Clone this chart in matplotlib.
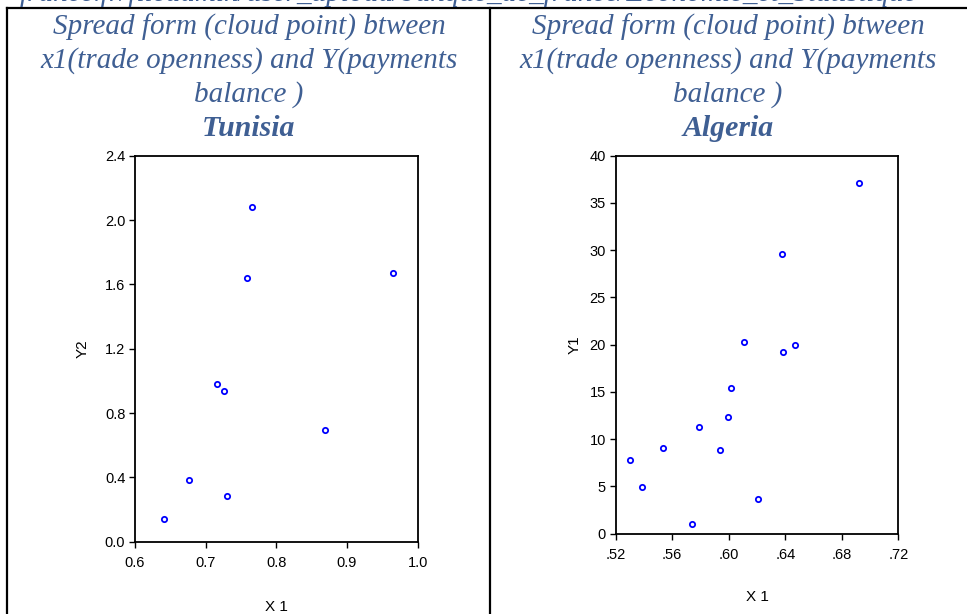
import matplotlib
matplotlib.use("Agg")
import matplotlib.pyplot as plt
from matplotlib.lines import Line2D

# Tunisia: X1 (trade openness) vs Y2 (payments balance)
tun_x1 = [0.7655, 0.7585, 0.9655, 0.716, 0.7255, 0.869, 0.677, 0.730, 0.6415]
tun_y2 = [2.083, 1.641, 1.669, 0.981, 0.939, 0.693, 0.385, 0.286, 0.143]

# Algeria: X1 (trade openness) vs Y1 (payments balance)
alg_x1 = [0.6923, 0.6377, 0.6111, 0.6386, 0.6466, 0.6016, 0.5997, 0.5787,
          0.5537, 0.5936, 0.5299, 0.5388, 0.6205, 0.5738]
alg_y1 = [37.08, 29.6, 20.28, 19.26, 20.0, 15.39, 12.38, 11.32,
          9.07, 8.86, 7.80, 4.91, 3.67, 0.99]

tun_xticks = [0.6, 0.7, 0.8, 0.9, 1.0]
tun_xlabels = ["0.6", "0.7", "0.8", "0.9", "1.0"]
tun_yticks = [0.0, 0.4, 0.8, 1.2, 1.6, 2.0, 2.4]
tun_ylabels = ["0.0", "0.4", "0.8", "1.2", "1.6", "2.0", "2.4"]

alg_xticks = [0.52, 0.56, 0.60, 0.64, 0.68, 0.72]
alg_xlabels = [".52", ".56", ".60", ".64", ".68", ".72"]
alg_yticks = [0, 5, 10, 15, 20, 25, 30, 35, 40]
alg_ylabels = ["0", "5", "10", "15", "20", "25", "30", "35", "40"]

title_lines = ["Spread form (cloud point) btween",
               "x1(trade openness) and Y(payments",
               "balance )"]
url_text = "france.fr/fileadmin/user_upload/banque_de_france/Economie_et_Statistique"

W, H = 967, 614
title_color = "#3F5F93"
serif = ["Liberation Serif", "DejaVu Serif"]
sans = ["Liberation Sans", "DejaVu Sans"]

fig = plt.figure(figsize=(W / 100, H / 100), dpi=100)

# table borders
lw = 1.6
fig.add_artist(Line2D([7 / W, 1], [1 - 8 / H, 1 - 8 / H], color="black", lw=lw))
fig.add_artist(Line2D([7 / W, 7 / W], [0, 1 - 8 / H], color="black", lw=lw))
fig.add_artist(Line2D([490 / W, 490 / W], [0, 1 - 8 / H], color="black", lw=lw))

# line of text above the table, cut by the page edge in the original
fig.text(20 / W, 1 - 1 / H, url_text, family=serif, style="italic",
         fontsize=21, color=title_color, va="baseline", ha="left")

for cx, country in [(249, "Tunisia"), (728, "Algeria")]:
    for i, line in enumerate(title_lines):
        fig.text(cx / W, 1 - (27 + 33.7 * i) / H, line, family=serif,
                 style="italic", fontsize=21, color=title_color,
                 ha="center", va="center")
    fig.text(cx / W, 1 - 128 / H, country, family=serif, style="italic",
             weight="bold", fontsize=21.5, color=title_color,
             ha="center", va="center")


def scatter_panel(rect, x, y, xlim, ylim, xticks, xlabels, yticks, ylabels,
                  ylabel, ylab_x, xlab_y):
    ax = fig.add_axes(rect)
    ax.plot(x, y, linestyle="none", marker="o", markersize=3.8,
            markerfacecolor="white", markeredgecolor="blue", markeredgewidth=1.3)
    ax.set_xlim(*xlim)
    ax.set_ylim(*ylim)
    ax.set_xticks(xticks)
    ax.set_xticklabels(xlabels)
    ax.set_yticks(yticks)
    ax.set_yticklabels(ylabels)
    for s in ax.spines.values():
        s.set_linewidth(1.3)
    ax.tick_params(axis="both", direction="out", length=4, width=1,
                   labelsize=10.5)
    ax.tick_params(axis="x", pad=6)
    ax.tick_params(axis="y", pad=3)
    for lab in ax.get_xticklabels() + ax.get_yticklabels():
        lab.set_family(sans)
    ax.set_xlabel("X 1", family=sans, fontsize=11)
    ax.set_ylabel(ylabel, family=sans, fontsize=11)
    ax.xaxis.set_label_coords(0.5, xlab_y)
    ax.yaxis.set_label_coords(ylab_x, 0.5)
    return ax


scatter_panel([135 / W, 1 - 541.7 / H, 282.7 / W, 386 / H],
              tun_x1, tun_y2, (0.6, 1.0), (0.0, 2.4),
              tun_xticks, tun_xlabels, tun_yticks, tun_ylabels,
              "Y2", -0.16, -0.15)

scatter_panel([615.7 / W, 1 - 533.7 / H, 282.7 / W, 378 / H],
              alg_x1, alg_y1, (0.52, 0.72), (0, 40),
              alg_xticks, alg_xlabels, alg_yticks, alg_ylabels,
              "Y1", -0.12, -0.15)

fig.savefig("out.png", dpi=100)
